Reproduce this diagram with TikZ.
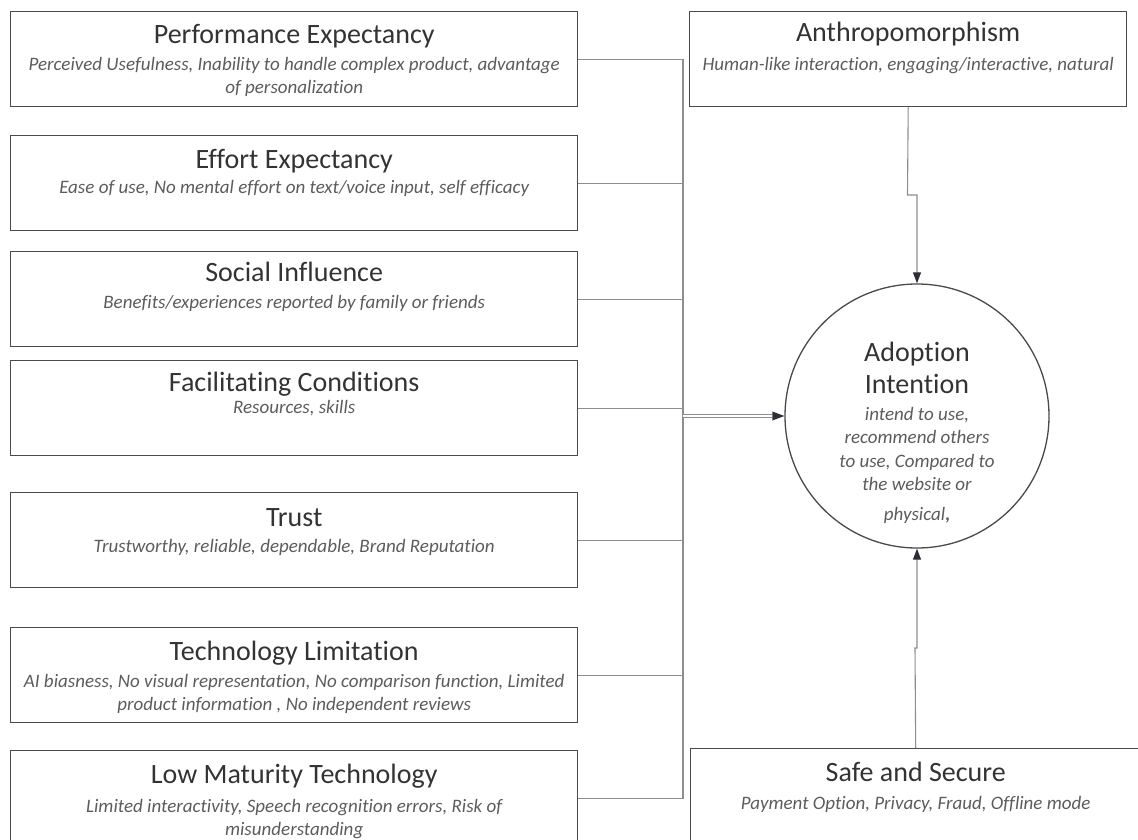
\documentclass[tikz,border=0pt]{standalone}
\usepackage{fontspec}
\setmainfont{Carlito}[Ligatures=NoCommon]
\usetikzlibrary{arrows.meta}
\definecolor{boxc}{HTML}{4A4A4A}
\definecolor{ttlc}{HTML}{333333}
\definecolor{subc}{HTML}{5C5C5C}
\definecolor{linkc}{HTML}{8E8E8E}
\definecolor{tipc}{HTML}{2E2E38}
\tikzset{
  box/.style={draw=boxc, line width=1.4pt, minimum width=567pt, minimum height=95pt,
    inner sep=0pt, anchor=north west},
  ttl/.style={font=\fontsize{28}{32}\selectfont, text=ttlc, anchor=base, inner sep=0pt, align=center},
  sub/.style={font=\itshape\fontsize{19}{23.5}\selectfont, text=subc, anchor=north, inner sep=0pt, align=center},
  link/.style={draw=linkc, line width=1.1pt},
  arr/.style={draw=linkc, line width=1.1pt, -{Triangle[length=11pt,width=8pt,color=tipc]}},
}
\newcommand{\fst}{\rule{0pt}{14pt}}
\begin{document}
\begin{tikzpicture}[x=1pt,y=-1pt]
\useasboundingbox (0,0) rectangle (1138,840);
\clip (0,0) rectangle (1138,840);

% factor boxes on the left
\node[box] (pe) at (10,11) {};
\node[box] (ee) at (10,135) {};
\node[box] (si) at (10,251) {};
\node[box] (fc) at (10,360) {};
\node[box] (tr) at (10,492) {};
\node[box] (tl) at (10,627) {};
\node[box] (lm) at (10,750) {};

% boxes on the right
\node[box, minimum width=437pt] (an) at (689,11) {};
\node[box, minimum width=450pt] (ss) at (690,748) {};

% central construct
\node[circle, draw=boxc, line width=1.3pt, minimum size=264pt, inner sep=0pt] (ai) at (917,416) {};

% box texts
\node[ttl] (pe-t) at ([yshift=-33pt]pe.north) {Performance Expectancy};
\node[sub] (pe-s) at ([yshift=-45pt]pe.north) {\fst Perceived Usefulness, Inability to handle complex product, advantage\\ of personalization};

\node[ttl] (ee-t) at ([yshift=-33pt]ee.north) {Effort Expectancy};
\node[sub] (ee-s) at ([yshift=-44pt]ee.north) {\fst Ease of use, No mental effort on text/voice input, self efficacy};

\node[ttl] (si-t) at ([yshift=-30pt]si.north) {Social Influence};
\node[sub] (si-s) at ([yshift=-43pt]si.north) {\fst Benefits/experiences reported by family or friends};

\node[ttl] (fc-t) at ([yshift=-31pt]fc.north) {Facilitating Conditions};
\node[sub] (fc-s) at ([yshift=-39pt]fc.north) {\fst Resources, skills};

\node[ttl] (tr-t) at ([yshift=-34pt]tr.north) {Trust};
\node[sub] (tr-s) at ([yshift=-46pt]tr.north) {\fst Trustworthy, reliable, dependable, Brand Reputation};

\node[ttl] (tl-t) at ([yshift=-33pt]tl.north) {Technology Limitation};
\node[sub] (tl-s) at ([yshift=-46pt]tl.north) {\fst AI biasness, No visual representation, No comparison function, Limited\\ product information , No independent reviews};

\node[ttl] (lm-t) at ([yshift=-33pt]lm.north) {Low Maturity Technology};
\node[sub] (lm-s) at ([yshift=-48pt]lm.north) {\fst Limited interactivity, Speech recognition errors, Risk of\\ misunderstanding};

\node[ttl] (an-t) at ([yshift=-31pt]an.north) {Anthropomorphism};
\node[sub] (an-s) at ([yshift=-45pt]an.north) {\fst Human-like interaction, engaging/interactive, natural};

\node[ttl] (ss-t) at ([yshift=-33pt]ss.north) {Safe and Secure};
\node[sub] (ss-s) at ([yshift=-47pt]ss.north) {\fst Payment Option, Privacy, Fraud, Offline mode};

\node[ttl, anchor=north] (ai-t) at (917,341) {\rule{0pt}{20pt}Adoption\\Intention};
\node[sub] (ai-s) at (917,406) {\fst intend to use,\\ recommend others\\ to use, Compared to\\ the website or\\[6pt] physical\textup{\textbf{,}}};

% connectors into the trunk
\coordinate (J) at (683,416);
\draw[link] (pe.east) -| (J);
\draw[link] (ee.east) -| (J);
\draw[link] (si.east) -| (J);
\draw[link] (fc.east) -| (J);
\draw[link] (tr.east) -| (J);
\draw[link] (tl.east) -| (J);
\draw[link] (lm.east) -| (J);
% merged arrow into the construct, drawn as a twin line
\draw[draw=linkc, line width=0.9pt, double=white, double distance=1.4pt,
  -{Triangle[length=12pt,width=9pt,color=tipc,line width=0pt]}] (J) -- (ai.west);

% connectors from the right boxes
\coordinate (aj) at (907.5,195);
\draw[arr] (an.south) -- (aj) -| (ai.north);
\coordinate (sj) at (915,648);
\draw[arr] (ss.north) -- (sj) -| (ai.south);
\end{tikzpicture}
\end{document}
